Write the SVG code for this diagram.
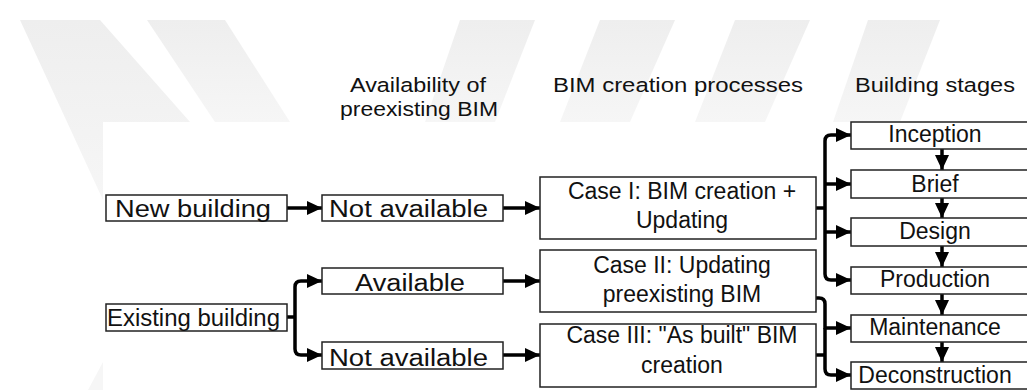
<svg xmlns="http://www.w3.org/2000/svg" width="1027" height="390" viewBox="0 0 1027 390">
<style>
.box{fill:#fff;stroke:#222;stroke-width:1.5}
.t{font-family:"Liberation Sans",Arial,sans-serif;font-size:23px;fill:#111}
.h{font-family:"Liberation Sans",Arial,sans-serif;font-size:20.5px;fill:#111;text-anchor:middle}
.m{text-anchor:middle}
.c{fill:none;stroke:#000;stroke-width:3.5;stroke-linejoin:round}
.wm{fill:url(#wg)}
</style>
<defs>
<linearGradient id="wg" x1="0" y1="0" x2="0" y2="1">
<stop offset="0" stop-color="#eeeeee"/>
<stop offset="1" stop-color="#f6f6f6"/>
</linearGradient>
<marker id="ah" markerUnits="userSpaceOnUse" markerWidth="15" markerHeight="14" refX="15" refY="7" orient="auto">
<path d="M0,0 L15,7 L0,14 Z" fill="#000"/>
</marker>
</defs>
<rect width="1027" height="390" fill="#fff"/>
<g id="watermark">
<polygon class="wm" points="20,20 100,20 190,122 103,122 103,200"/>
<polygon class="wm" points="147,20 225,20 290,122 215,122"/>
<polygon class="wm" points="460,20 535,20 495,122 425,122"/>
<polygon class="wm" points="600,20 675,20 630,122 560,122"/>
<polygon class="wm" points="735,20 810,20 765,122 695,122"/>
<polygon class="wm" points="868,20 940,20 900,122 833,122"/>
<polygon fill="#f6f6f6" points="88,390 103,362 103,390"/>
</g>
<g id="headers">
<text class="h" x="418" y="92" textLength="136" lengthAdjust="spacingAndGlyphs">Availability of</text>
<text class="h" x="419" y="116" textLength="158" lengthAdjust="spacingAndGlyphs">preexisting BIM</text>
<text class="h" x="678" y="92" textLength="250" lengthAdjust="spacingAndGlyphs">BIM creation processes</text>
<text class="h" x="935" y="92" textLength="160" lengthAdjust="spacingAndGlyphs">Building stages</text>
</g>
<g id="connectors">
<path class="c" d="M287,208 H322" marker-end="url(#ah)"/>
<path class="c" d="M287,317 H295"/>
<path class="c" d="M295,317 V287 Q295,281 301,281 H322" marker-end="url(#ah)"/>
<path class="c" d="M295,317 V349 Q295,355 301,355 H322" marker-end="url(#ah)"/>
<path class="c" d="M503,208 H540" marker-end="url(#ah)"/>
<path class="c" d="M503,281 H540" marker-end="url(#ah)"/>
<path class="c" d="M503,355 H540" marker-end="url(#ah)"/>
<path class="c" d="M816,208 H825"/>
<path class="c" d="M825,208 V141 Q825,135 831,135 H851" marker-end="url(#ah)"/>
<path class="c" d="M825,184 H851" marker-end="url(#ah)"/>
<path class="c" d="M825,232 H851" marker-end="url(#ah)"/>
<path class="c" d="M825,208 V274 Q825,280 831,280 H851" marker-end="url(#ah)"/>
<path class="c" d="M816,298 H819 Q825,298 825,304 V328 H851" marker-end="url(#ah)"/>
<path class="c" d="M825,328 V369 Q825,375 831,375 H851" marker-end="url(#ah)"/>
<path class="c" d="M816,355 H825"/>
<path class="c" d="M942,149 V170" marker-end="url(#ah)"/>
<path class="c" d="M942,198 V218" marker-end="url(#ah)"/>
<path class="c" d="M942,246 V267" marker-end="url(#ah)"/>
<path class="c" d="M942,294 V315" marker-end="url(#ah)"/>
<path class="c" d="M942,342 V362" marker-end="url(#ah)"/>
</g>
<g id="new-building">
<rect class="box" x="106" y="195" width="181" height="26"/>
<text class="t" x="115" y="217" textLength="156" lengthAdjust="spacingAndGlyphs">New building</text>
</g>
<g id="not-available-1">
<rect class="box" x="322" y="195" width="181" height="26"/>
<text class="t" x="329" y="217" textLength="159" lengthAdjust="spacingAndGlyphs">Not available</text>
</g>
<g id="existing-building">
<rect class="box" x="106" y="304" width="181" height="27"/>
<text class="t" x="107" y="326" textLength="173" lengthAdjust="spacingAndGlyphs">Existing building</text>
</g>
<g id="available">
<rect class="box" x="322" y="268" width="181" height="26"/>
<text class="t" x="355" y="291" textLength="110" lengthAdjust="spacingAndGlyphs">Available</text>
</g>
<g id="not-available-2">
<rect class="box" x="322" y="342" width="181" height="27"/>
<text class="t" x="329" y="366" textLength="159" lengthAdjust="spacingAndGlyphs">Not available</text>
</g>
<g id="case-1">
<rect class="box" x="540" y="177" width="276" height="62"/>
<text class="t m" x="682" y="199">Case I: BIM creation +</text>
<text class="t m" x="682" y="228">Updating</text>
</g>
<g id="case-2">
<rect class="box" x="540" y="250" width="276" height="62"/>
<text class="t m" x="682" y="273">Case II: Updating</text>
<text class="t m" x="682" y="302">preexisting BIM</text>
</g>
<g id="case-3">
<rect class="box" x="540" y="324" width="276" height="63"/>
<text class="t m" x="682" y="343">Case III: "As built" BIM</text>
<text class="t m" x="682" y="373">creation</text>
</g>
<g id="inception">
<rect class="box" x="851" y="122" width="190" height="27"/>
<text class="t m" x="935" y="142">Inception</text>
</g>
<g id="brief">
<rect class="box" x="851" y="170" width="190" height="28"/>
<text class="t m" x="935" y="192">Brief</text>
</g>
<g id="design">
<rect class="box" x="851" y="218" width="190" height="28"/>
<text class="t m" x="935" y="239">Design</text>
</g>
<g id="production">
<rect class="box" x="851" y="267" width="190" height="27"/>
<text class="t m" x="935" y="287">Production</text>
</g>
<g id="maintenance">
<rect class="box" x="851" y="315" width="190" height="27"/>
<text class="t m" x="935" y="335">Maintenance</text>
</g>
<g id="deconstruction">
<rect class="box" x="851" y="362" width="190" height="27"/>
<text class="t m" x="935" y="383">Deconstruction</text>
</g>
</svg>
